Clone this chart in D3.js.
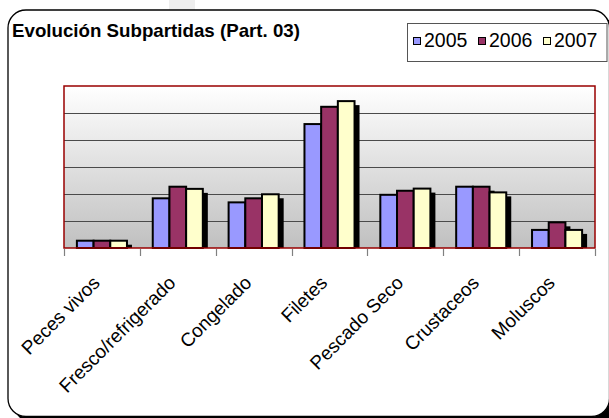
<!DOCTYPE html>
<html>
<head>
<meta charset="utf-8">
<script src="https://cdn.jsdelivr.net/npm/d3@7"></script>
<style>
  html, body { margin: 0; padding: 0; background: #fff; }
  svg { display: block; font-family: "Liberation Sans", Arial, sans-serif; }
</style>
</head>
<body>
<div id="chart"></div>
<script>
// Datos
const categorias = ['Peces vivos', 'Fresco/refrigerado', 'Congelado', 'Filetes', 'Pescado Seco', 'Crustaceos', 'Moluscos'];
const series = ['2005', '2006', '2007'];
const valores2005 = [0.27, 1.84, 1.69, 4.59, 1.97, 2.27, 0.67];
const valores2006 = [0.27, 2.27, 1.84, 5.23, 2.12, 2.27, 0.95];
const valores2007 = [0.27, 2.19, 1.99, 5.44, 2.20, 2.06, 0.67];
const colores = ['#9999ff', '#993366', '#ffffcc'];
const yMax = 6;
const yTicks = [1, 2, 3, 4, 5];

const valores = [valores2005, valores2006, valores2007];

function renderChart() {
    const width = 609;
    const height = 418;
    const svg = d3.select('#chart')
        .append('svg')
        .attr('width', width)
        .attr('height', height);

    // pequeño artefacto gris arriba
    svg.append('rect')
        .attr('x', 169).attr('y', 0)
        .attr('width', 26).attr('height', 10)
        .attr('fill', '#eeeeee');

    // Marco del gráfico con sombra
    svg.append('rect')
        .attr('x', 14).attr('y', 16)
        .attr('width', 601.5).attr('height', 406.5)
        .attr('rx', 18)
        .attr('fill', '#000');
    svg.append('rect')
        .attr('x', 8).attr('y', 10)
        .attr('width', 601.5).attr('height', 406.5)
        .attr('rx', 18)
        .attr('fill', '#fff')
        .attr('stroke', '#000')
        .attr('stroke-width', 1.3);

    // Título
    svg.append('text')
        .attr('x', 12)
        .attr('y', 36.5)
        .attr('font-size', '19px')
        .attr('font-weight', 'bold')
        .attr('textLength', 288)
        .attr('lengthAdjust', 'spacingAndGlyphs')
        .text('Evolución Subpartidas (Part. 03)');

    // Área de trazado
    const plot = { left: 64, top: 86, right: 595, bottom: 248 };

    const defs = svg.append('defs');
    const grad = defs.append('linearGradient')
        .attr('id', 'fondo')
        .attr('x1', 0).attr('y1', 0).attr('x2', 0).attr('y2', 1);
    grad.append('stop').attr('offset', '0%').attr('stop-color', '#ffffff');
    grad.append('stop').attr('offset', '100%').attr('stop-color', '#c0c0c0');

    svg.append('rect')
        .attr('x', plot.left).attr('y', plot.top)
        .attr('width', plot.right - plot.left)
        .attr('height', plot.bottom - plot.top)
        .attr('fill', 'url(#fondo)');

    const x0 = d3.scaleBand()
        .domain(categorias)
        .range([plot.left, plot.right])
        .padding(0);

    const bw = x0.bandwidth();
    const gap = bw * 0.34;
    const x1 = d3.scaleBand()
        .domain(series)
        .range([gap / 2, bw - gap / 2])
        .padding(0);

    const y = d3.scaleLinear()
        .domain([0, yMax])
        .range([plot.bottom, plot.top]);

    // Líneas de división
    svg.selectAll('.grid')
        .data(yTicks)
        .enter().append('line')
        .attr('class', 'grid')
        .attr('x1', plot.left).attr('x2', plot.right)
        .attr('y1', d => Math.round(y(d)) + 0.5)
        .attr('y2', d => Math.round(y(d)) + 0.5)
        .attr('stroke', '#4a4a4a')
        .attr('stroke-width', 1);

    // Construir datos de barras
    const barras = [];
    series.forEach((s, i) => {
        categorias.forEach((c, j) => {
            barras.push({ serie: s, cat: c, valor: valores[i][j], color: colores[i] });
        });
    });

    // Sombras
    svg.selectAll('.sombra')
        .data(barras)
        .enter().append('rect')
        .attr('class', 'sombra')
        .attr('x', d => x0(d.cat) + x1(d.serie) + 5)
        .attr('y', d => y(d.valor) + 4)
        .attr('width', x1.bandwidth())
        .attr('height', d => plot.bottom - y(d.valor) - 4)
        .attr('fill', '#000');

    // Barras
    svg.selectAll('.barra')
        .data(barras)
        .enter().append('rect')
        .attr('class', 'barra')
        .attr('x', d => x0(d.cat) + x1(d.serie))
        .attr('y', d => y(d.valor))
        .attr('width', x1.bandwidth())
        .attr('height', d => plot.bottom - y(d.valor))
        .attr('fill', d => d.color)
        .attr('stroke', '#000')
        .attr('stroke-width', 2);

    // Borde del área de trazado
    svg.append('rect')
        .attr('x', plot.left).attr('y', plot.top)
        .attr('width', plot.right - plot.left)
        .attr('height', plot.bottom - plot.top)
        .attr('fill', 'none')
        .attr('stroke', '#990000')
        .attr('stroke-width', 1.5);

    // Marcas del eje X
    const bordes = categorias.map(c => x0(c)).concat([plot.right]);
    svg.selectAll('.tick')
        .data(bordes)
        .enter().append('line')
        .attr('class', 'tick')
        .attr('x1', d => Math.round(d) + 0.5).attr('x2', d => Math.round(d) + 0.5)
        .attr('y1', plot.bottom + 1).attr('y2', plot.bottom + 8)
        .attr('stroke', '#808080')
        .attr('stroke-width', 1.2);

    // Etiquetas rotadas
    svg.selectAll('.etiqueta')
        .data(categorias)
        .enter().append('text')
        .attr('class', 'etiqueta')
        .attr('text-anchor', 'end')
        .attr('font-size', '19px')
        .attr('transform', d => `translate(${x0(d) + bw / 2 - 1},284) rotate(-45)`)
        .text(d => d);

    // Leyenda
    const leg = svg.append('g');
    leg.append('rect')
        .attr('x', 407.5).attr('y', 23.5)
        .attr('width', 199.5).attr('height', 38)
        .attr('fill', '#fff')
        .attr('stroke', '#555')
        .attr('stroke-width', 1);

    const item = leg.selectAll('.item')
        .data(series)
        .enter().append('g')
        .attr('class', 'item')
        .attr('transform', (d, i) => `translate(${413 + i * 65},0)`);

    item.append('rect')
        .attr('x', 0.5).attr('y', 37.5)
        .attr('width', 7).attr('height', 7)
        .attr('fill', (d, i) => colores[i])
        .attr('stroke', '#000')
        .attr('stroke-width', 1);

    item.append('text')
        .attr('x', 11)
        .attr('y', 47)
        .attr('font-size', '19.5px')
        .text(d => d);
}

renderChart();
</script>
</body>
</html>
